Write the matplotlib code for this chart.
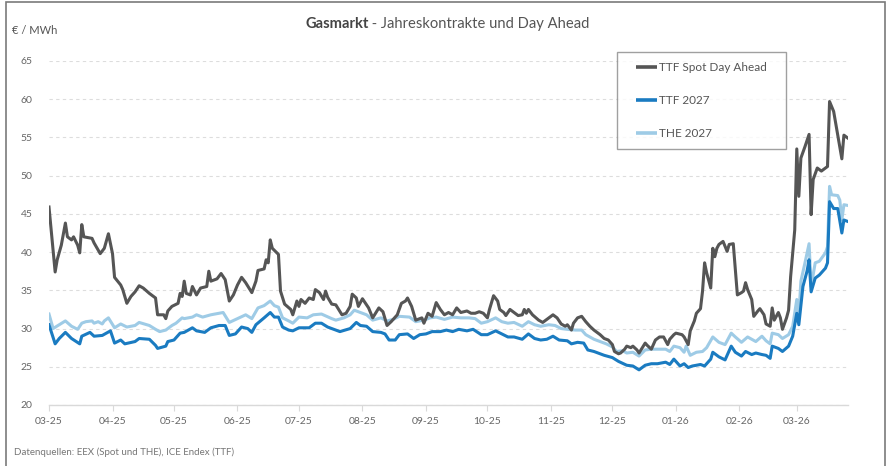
import numpy as np
import pandas as pd
import matplotlib
matplotlib.use("Agg")
import matplotlib.pyplot as plt
import matplotlib.dates as mdates
from matplotlib.patches import Rectangle
from matplotlib.lines import Line2D
from matplotlib.legend_handler import HandlerLine2D

START = pd.Timestamp("2025-03-01")

# day offsets from START and prices in EUR/MWh
spot_days = [0, 3, 4, 6, 8, 9, 11, 12, 14, 15, 16, 17, 21, 22, 25, 27, 29, 31, 32, 35,
             36, 38, 40, 42, 44, 46, 49, 52, 53, 56, 57, 58, 60, 63, 64, 65, 66, 67, 69, 70,
             72, 74, 77, 78, 79, 82, 84, 86, 88, 90, 92, 94, 96, 99, 101, 102, 105, 106, 107, 108,
             109, 112, 113, 115, 118, 119, 121, 122, 123, 125, 127, 129, 130, 132, 134, 135, 136, 138, 140, 143,
             145, 147, 148, 150, 151, 153, 156, 158, 161, 163, 165, 167, 170, 172, 174, 175, 177, 179, 182, 183,
             185, 187, 189, 191, 193, 195, 197, 199, 201, 204, 206, 208, 210, 212, 214, 215, 217, 219, 220, 222,
             223, 225, 227, 229, 231, 232, 233, 234, 236, 239, 241, 244, 246, 248, 250, 252, 253, 255, 256, 258,
             260, 262, 264, 266, 269, 271, 273, 275, 276, 278, 279, 281, 282, 284, 285, 287, 288, 291, 292, 294,
             296, 298, 300, 302, 303, 305, 306, 309, 310, 312, 313, 315, 316, 318, 319, 320, 321, 323, 324, 325,
             326, 327, 329, 331, 332, 334, 335, 336, 338, 339, 340, 341, 343, 344, 346, 347, 349, 350, 352, 353,
             354, 356, 357, 358, 360, 361, 362, 364, 365, 366, 367, 369, 371, 372, 373, 375, 377, 378, 380, 381,
             383, 385, 387, 388, 390]
spot_vals = [45.9, 37.4, 39.0, 40.9, 43.8, 42.0, 41.6, 42.0, 40.9, 39.9, 43.6, 42.0, 41.8, 41.2, 39.8, 40.5, 42.4, 39.8, 36.7, 35.7,
             35.1, 33.3, 34.2, 34.8, 35.6, 35.3, 34.6, 34.0, 31.8, 31.8, 31.3, 32.3, 32.9, 33.3, 34.6, 34.2, 36.2, 34.6, 34.4, 35.5,
             34.4, 35.3, 35.5, 37.5, 36.2, 36.5, 37.2, 36.4, 33.6, 34.4, 35.7, 36.7, 36.0, 34.7, 36.2, 37.6, 37.8, 39.0, 38.6, 41.6,
             40.5, 39.7, 34.9, 33.2, 32.5, 31.8, 33.6, 32.9, 33.8, 33.3, 34.0, 33.8, 35.1, 34.7, 33.8, 34.9, 34.1, 33.2, 33.1, 31.8,
             32.0, 32.9, 34.5, 34.0, 32.9, 33.9, 32.7, 31.4, 32.7, 32.2, 30.4, 30.9, 31.8, 33.3, 33.6, 34.0, 32.9, 31.1, 31.4, 30.7,
             32.0, 31.6, 33.4, 32.5, 31.8, 32.1, 31.8, 32.7, 32.1, 32.3, 32.0, 32.0, 32.2, 32.0, 31.4, 32.5, 34.3, 33.6, 32.5, 32.1,
             31.7, 32.5, 32.1, 31.7, 31.8, 32.5, 32.0, 32.5, 31.8, 31.1, 30.8, 31.4, 31.8, 31.4, 30.6, 30.3, 30.5, 29.8, 30.7, 31.4,
             31.6, 30.9, 30.3, 29.8, 29.2, 28.7, 28.5, 27.9, 27.0, 26.7, 26.8, 27.3, 27.7, 27.5, 27.7, 27.2, 26.8, 28.1, 27.8, 27.3,
             28.5, 28.9, 28.9, 27.9, 28.6, 29.2, 29.4, 29.2, 28.9, 27.9, 29.7, 31.0, 32.0, 32.6, 34.9, 38.6, 37.3, 35.3, 40.5, 39.4,
             40.5, 41.0, 41.4, 40.1, 41.0, 41.1, 37.7, 34.4, 34.7, 34.9, 36.0, 35.1, 33.8, 31.6, 32.3, 32.6, 31.8, 30.6, 30.3, 32.7,
             31.1, 32.1, 31.4, 29.9, 31.4, 32.4, 36.8, 42.9, 53.5, 47.3, 52.3, 53.8, 55.4, 44.9, 49.5, 51.0, 50.6, 50.8, 51.2, 59.7,
             58.4, 55.3, 52.2, 55.3, 54.9]

ttf_days = [0, 3, 5, 8, 11, 15, 16, 20, 22, 26, 30, 32, 35, 37, 42, 44, 49, 52, 53, 57,
            58, 61, 64, 66, 70, 72, 76, 79, 83, 86, 88, 91, 94, 97, 99, 101, 105, 108, 110, 112,
            114, 117, 119, 122, 127, 130, 133, 136, 140, 142, 147, 150, 152, 155, 158, 162, 164, 166, 169, 171,
            175, 178, 181, 184, 187, 191, 194, 197, 200, 204, 207, 211, 214, 218, 221, 224, 227, 231, 234, 237,
            240, 243, 246, 249, 253, 255, 258, 261, 263, 266, 271, 275, 278, 282, 285, 288, 291, 294, 297, 301,
            303, 305, 308, 310, 312, 314, 318, 320, 323, 324, 327, 330, 333, 335, 338, 340, 343, 345, 348, 350,
            352, 353, 356, 358, 361, 363, 365, 366, 368, 370, 371, 372, 374, 376, 379, 380, 381, 383, 385, 387,
            388, 390]
ttf_vals = [30.5, 28.0, 28.7, 29.5, 28.7, 28.0, 29.0, 29.5, 29.0, 29.1, 29.7, 28.1, 28.5, 28.0, 28.3, 28.7, 28.6, 27.8, 27.4, 27.7,
            28.3, 28.5, 29.4, 29.5, 30.1, 29.7, 29.5, 30.1, 30.4, 30.4, 29.1, 29.3, 30.2, 30.0, 29.5, 30.5, 31.4, 32.1, 31.5, 31.5,
            30.2, 29.8, 29.7, 30.1, 30.1, 30.7, 30.7, 30.2, 29.8, 29.6, 30.0, 30.8, 30.4, 30.3, 29.6, 29.5, 29.3, 28.5, 28.5, 29.2,
            29.3, 28.7, 29.2, 29.3, 29.6, 29.6, 29.8, 29.6, 29.9, 29.7, 29.9, 29.2, 29.2, 29.7, 29.3, 28.9, 28.9, 28.6, 29.3, 28.7,
            28.5, 28.6, 29.0, 28.5, 28.4, 28.0, 28.2, 28.1, 27.2, 27.0, 26.5, 26.2, 25.7, 25.2, 25.1, 24.6, 25.2, 25.4, 25.4, 25.6,
            25.3, 26.0, 25.1, 25.4, 24.9, 25.1, 25.3, 25.1, 26.0, 26.9, 26.3, 25.9, 27.7, 26.9, 26.4, 27.0, 26.6, 26.8, 26.6, 26.5,
            26.1, 27.7, 27.4, 27.0, 27.7, 29.0, 32.0, 30.5, 35.5, 37.5, 39.0, 34.8, 36.6, 37.0, 37.9, 38.6, 46.6, 45.7, 45.7, 42.5,
            44.2, 44.0]

the_days = [0, 2, 5, 8, 11, 14, 16, 18, 21, 22, 24, 26, 27, 29, 32, 35, 38, 42, 44, 49,
            52, 54, 57, 60, 62, 65, 66, 70, 72, 75, 79, 85, 88, 92, 96, 99, 102, 105, 108, 110,
            112, 114, 117, 119, 122, 126, 129, 133, 138, 140, 144, 147, 149, 152, 155, 158, 162, 165, 168, 171,
            176, 179, 183, 186, 189, 193, 197, 201, 205, 208, 211, 214, 218, 221, 224, 227, 231, 234, 237, 240,
            244, 247, 250, 253, 257, 260, 262, 266, 269, 272, 275, 277, 280, 282, 285, 288, 291, 294, 297, 301,
            303, 305, 308, 310, 311, 313, 316, 319, 321, 324, 327, 330, 333, 335, 338, 341, 343, 345, 348, 350,
            352, 353, 356, 358, 361, 363, 365, 366, 367, 369, 371, 372, 374, 376, 379, 380, 381, 382, 385, 386,
            387, 388, 390]
the_vals = [31.9, 30.0, 30.5, 31.0, 30.3, 29.9, 30.7, 30.9, 31.0, 30.7, 30.9, 30.6, 31.0, 31.4, 30.1, 30.6, 30.2, 30.4, 30.8, 30.4,
            29.9, 29.6, 29.8, 30.4, 30.7, 31.4, 31.3, 31.5, 31.8, 31.5, 31.8, 32.1, 30.8, 31.3, 31.8, 31.3, 32.7, 33.0, 33.6, 33.0,
            32.8, 31.4, 31.0, 30.7, 31.5, 31.4, 31.8, 31.9, 31.3, 31.1, 31.4, 31.8, 32.4, 32.1, 31.8, 31.1, 31.4, 31.0, 31.2, 31.6,
            31.5, 30.9, 31.1, 31.4, 31.5, 31.2, 31.5, 31.4, 31.4, 31.3, 30.7, 30.9, 31.4, 30.9, 30.7, 30.8, 30.3, 30.9, 30.5, 30.3,
            30.5, 30.4, 30.0, 29.9, 29.8, 29.8, 29.2, 28.6, 28.3, 28.0, 27.6, 27.0, 27.1, 26.8, 26.9, 26.4, 27.2, 27.3, 27.3, 27.3,
            27.0, 27.7, 27.5, 26.9, 27.7, 26.5, 26.9, 27.0, 27.5, 28.9, 28.2, 27.9, 29.4, 28.9, 28.2, 28.9, 28.6, 28.3, 29.0, 28.4,
            28.0, 29.4, 29.2, 28.7, 29.2, 30.3, 33.8, 31.6, 36.2, 38.6, 41.1, 35.5, 38.6, 38.8, 39.9, 40.7, 48.6, 47.5, 47.4, 46.8,
            44.2, 46.2, 46.1]

SERIES = [
    ("TTF Spot Day Ahead", spot_days, spot_vals, "#555555", 4),
    ("TTF 2027", ttf_days, ttf_vals, "#1a7bc1", 3),
    ("THE 2027", the_days, the_vals, "#9ecbe6", 2),
]

Y_TICKS = [20, 25, 30, 35, 40, 45, 50, 55, 60, 65]
X_END = 390

FONT = ["Lato", "DejaVu Sans"]
TXT = "#555555"

plt.rcParams["font.family"] = FONT

W, H = 889, 466
fig = plt.figure(figsize=(W / 100, H / 100), dpi=100)
ax = fig.add_axes([49 / W, 1 - 405 / H, (848 - 49) / W, (405 - 61) / H])

handles = []
for name, days, vals, color, z in SERIES:
    dates = START + pd.to_timedelta(days, unit="D")
    h, = ax.plot(dates, vals, color=color, lw=2.2, label=name, zorder=z,
                 solid_joinstyle="round")
    handles.append(h)

ax.set_ylim(20, 65)
ax.set_yticks(Y_TICKS)
ax.set_xlim(START, START + pd.Timedelta(days=X_END))
ax.xaxis.set_major_locator(mdates.MonthLocator())
ax.xaxis.set_major_formatter(mdates.DateFormatter("%m-%y"))

for s in ["top", "right", "left"]:
    ax.spines[s].set_visible(False)
ax.spines["bottom"].set_color("#d9d9d9")
ax.spines["bottom"].set_linewidth(1.0)

ax.tick_params(axis="y", length=0, pad=12, labelsize=7.5, labelcolor="#666666")
ax.tick_params(axis="x", length=4, color="#d9d9d9", pad=5, labelsize=7.5, labelcolor="#666666")

ax.yaxis.grid(True, color="#dddddd", lw=0.8, linestyle=(0, (3, 3)))
ax.set_axisbelow(True)

# legend handles start a bit in from the frame edge
handler = HandlerLine2D(xpad=0.8)
leg = fig.legend(handles=handles,
                 labels=["TTF Spot Day Ahead   ", "TTF 2027", "THE 2027"],
                 loc="upper left", bbox_to_anchor=(617 / W, 1 - 52 / H), ncol=1,
                 fontsize=8.5, labelcolor=TXT, frameon=True, fancybox=False,
                 handlelength=2.5, handletextpad=0.2, labelspacing=1.85,
                 borderpad=0.85, borderaxespad=0,
                 handler_map={Line2D: handler})
frame = leg.get_frame()
frame.set_edgecolor("#888888")
frame.set_linewidth(1.0)
for line in leg.get_lines():
    line.set_linewidth(2.6)
    line.set_solid_capstyle("butt")

# title: bold keyword followed by normal text
t1 = fig.text(305 / W, 1 - 24 / H, "Gasmarkt", fontsize=10.6, fontweight="bold",
              color="#444444", va="center", ha="left")
fig.canvas.draw()
bb = t1.get_window_extent()
fig.text(bb.x1 / W, 1 - 24 / H, " - Jahreskontrakte und Day Ahead", fontsize=10.6,
         color=TXT, va="center", ha="left")

fig.text(12 / W, 1 - 30 / H, "€ / MWh", fontsize=8, color=TXT, va="center", ha="left")
fig.text(14 / W, 1 - 452 / H, "Datenquellen: EEX (Spot und THE), ICE Endex (TTF)",
         fontsize=7, color="#777777", va="center", ha="left")

# outer frame
fig.patches.append(Rectangle((6 / W, -0.02), 879 / W, 1.02 - 2 / H,
                             transform=fig.transFigure, fill=False,
                             edgecolor="#7a7a7a", lw=1.2))

fig.savefig("out.png", dpi=100)
